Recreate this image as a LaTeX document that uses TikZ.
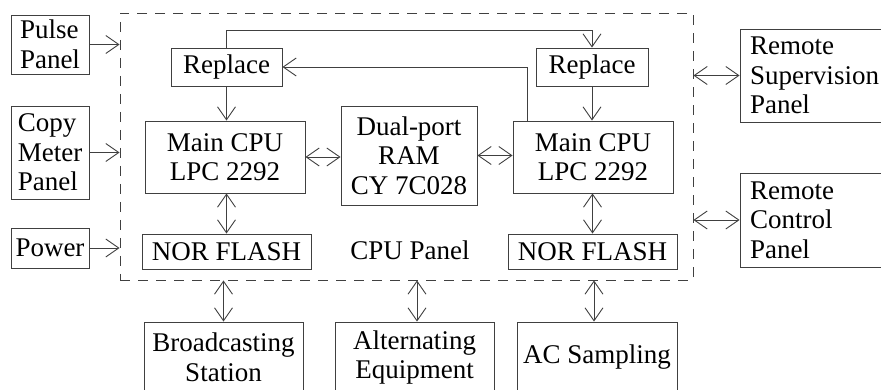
\documentclass[tikz,border=0pt]{standalone}
\usepackage{fontspec}
\setmainfont{Liberation Serif}
\usetikzlibrary{arrows.meta}
\definecolor{boxline}{gray}{0.25}
\begin{document}
\begin{tikzpicture}[x=1pt,y=-1pt,
  font=\fontsize{27}{29.5}\selectfont,
  box/.style={draw=boxline, line width=0.9pt, rectangle, inner sep=0pt, align=center},
  lbox/.style={box, align=left},
  barb/.tip={Straight Barb[length=13pt,width=18pt,line width=0.9pt]},
  link/.style={draw=boxline, line width=0.9pt},
  arr/.style={link, -barb},
  biarr/.style={link, barb-barb}]
\clip (0,0) rectangle (881,390);

% CPU panel outline
\node[draw=boxline, line width=0.9pt, dash pattern=on 10pt off 8pt, minimum width=573pt, minimum height=267pt, inner sep=0pt] (panel) at (406.5,146.5) {};
\node (panellabel) at (410,250) {CPU Panel};

% inputs on the left
\node[lbox, minimum width=78pt, minimum height=59pt] (pulse) at (50,44.5) {Pulse\\Panel};
\node[lbox, minimum width=78pt, minimum height=93pt] (copy) at (50,152.5) {Copy\\Meter\\Panel};
\node[box, minimum width=78pt, minimum height=40pt] (power) at (50,248) {Power};

% boards inside the CPU panel
\node[box, minimum width=111pt, minimum height=38pt] (replL) at (226.5,67) {Replace};
\node[box, minimum width=112pt, minimum height=38pt] (replR) at (592,67) {Replace};
\node[box, minimum width=160pt, minimum height=72pt] (cpuL) at (225,157) {Main CPU\\LPC 2292};
\node[box, minimum width=160pt, minimum height=72pt] (cpuR) at (593,157) {Main CPU\\LPC 2292};
\node[box, minimum width=136pt, minimum height=99pt] (ram) at (409,155.5) {Dual-port\\RAM\\CY 7C028};
\node[box, minimum width=169pt, minimum height=35pt] (norL) at (226.5,251.5) {NOR FLASH};
\node[box, minimum width=169pt, minimum height=35pt] (norR) at (592.5,251.5) {NOR FLASH};

% remote panels on the right
\node[lbox, text width=141pt, inner xsep=10pt, minimum height=93pt] (rsup) at (820.5,75.5) {Remote\\Supervision\\Panel};
\node[lbox, text width=141pt, inner xsep=10pt, minimum height=94pt] (rctl) at (820.5,220) {Remote\\Control\\Panel};

% units below
\node[box, minimum width=159pt, minimum height=71pt] (bcast) at (223.5,357.5) {Broadcasting\\Station};
\node[box, minimum width=159pt, minimum height=71pt] (alt) at (414.5,357.5) {Alternating\\Equipment};
\node[box, minimum width=160pt, minimum height=71pt] (acs) at (597,357.5) {AC Sampling};

% inputs into the panel
\draw[arr] (pulse.east) -- (pulse.east -| panel.west);
\draw[arr] (copy.east) -- (copy.east -| panel.west);
\draw[arr] (power.east) -- (power.east -| panel.west);

% remote links
\draw[biarr] (rsup.west) -- (rsup.west -| panel.east);
\draw[biarr] (rctl.west) -- (rctl.west -| panel.east);

% replace boards
\draw[arr] (replL.south) -- (replL.south |- cpuL.north);
\draw[arr] (replR.south) -- (replR.south |- cpuR.north);
\draw[arr] (replL.north) -- ++(0,-17) -| (replR.north);
\draw[arr] ([xshift=-66pt]cpuR.north) |- (replL.east);

% CPU and shared RAM
\draw[biarr] (cpuL.east) -- (cpuL.east -| ram.west);
\draw[biarr] (ram.east) -- (ram.east -| cpuR.west);

% flash memory
\draw[biarr] (norL.north) -- (norL.north |- cpuL.south);
\draw[biarr] (norR.north) -- (norR.north |- cpuR.south);

% lower units
\draw[biarr] (bcast.north) -- (bcast.north |- panel.south);
\draw[biarr] ([xshift=2.5pt]alt.north) -- ([xshift=2.5pt]alt.north |- panel.south);
\draw[biarr] ([xshift=-3pt]acs.north) -- ([xshift=-3pt]acs.north |- panel.south);
\end{tikzpicture}
\end{document}
